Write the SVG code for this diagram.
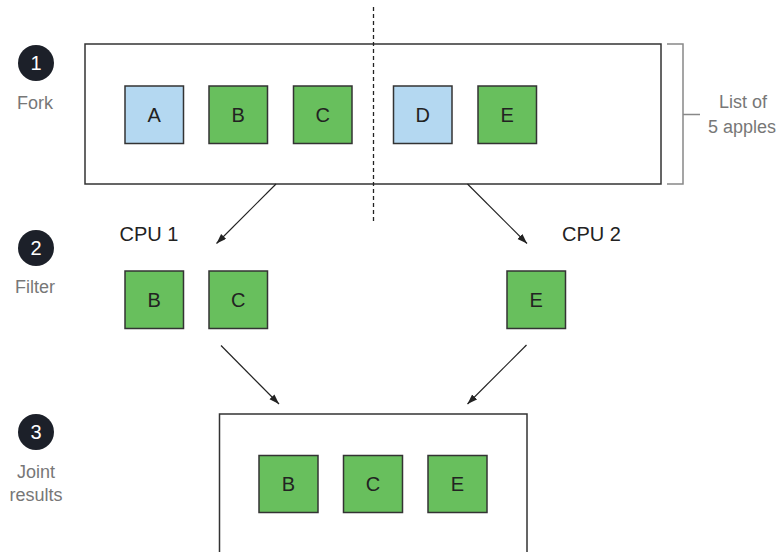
<svg xmlns="http://www.w3.org/2000/svg" width="779" height="552" viewBox="0 0 779 552">
<style>
.box{fill:#fff;stroke:#333;stroke-width:1.5}
.sq{stroke:#333;stroke-width:1.5}
.blue{fill:#b4d8f1}
.green{fill:#68bf5d}
.lt{font-family:"Liberation Sans",Arial,sans-serif;font-size:20px;fill:#222;text-anchor:middle}
.cpu{font-family:"Liberation Sans",Arial,sans-serif;font-size:20px;fill:#222}
.gl{font-family:"Liberation Sans",Arial,sans-serif;font-size:18px;fill:#777;text-anchor:middle}
.num{font-family:"Liberation Sans",Arial,sans-serif;font-size:20px;fill:#fff;text-anchor:middle}
.circ{fill:#1c2029}
.conn{stroke:#222;stroke-width:1.2;fill:none}
</style>
<defs>
<marker id="arr" markerUnits="userSpaceOnUse" markerWidth="11" markerHeight="8" refX="10" refY="3.5" orient="auto">
<path d="M0,0 L10,3.5 L0,7 z" fill="#222"/>
</marker>
</defs>
<g id="step1">
<circle class="circ" cx="36" cy="63" r="18"/>
<text class="num" x="36" y="70">1</text>
<text class="gl" x="35" y="109">Fork</text>
</g>
<g id="step2">
<circle class="circ" cx="36" cy="248" r="18"/>
<text class="num" x="36" y="255">2</text>
<text class="gl" x="35" y="293">Filter</text>
</g>
<g id="step3">
<circle class="circ" cx="36" cy="432" r="18"/>
<text class="num" x="36" y="439">3</text>
<text class="gl" x="36" y="478">Joint</text>
<text class="gl" x="36" y="501">results</text>
</g>
<g id="list">
<rect class="box" x="85" y="44" width="576" height="140"/>
</g>
<g id="bracket">
<path d="M667,44 H683 V184 H667 M683,114.5 H700" fill="none" stroke="#888" stroke-width="1.5"/>
<text class="gl" x="743" y="108">List of</text>
<text class="gl" x="742" y="133">5 apples</text>
</g>
<g id="divider">
<line x1="373.5" y1="7" x2="373.5" y2="222" stroke="#222" stroke-width="1.3" stroke-dasharray="4,3"/>
</g>
<g id="A1"><rect class="sq blue" x="125" y="86" width="58.5" height="57.5"/><text class="lt" x="154.2" y="122">A</text></g>
<g id="B1"><rect class="sq green" x="209" y="86" width="58.5" height="57.5"/><text class="lt" x="238.2" y="122">B</text></g>
<g id="C1"><rect class="sq green" x="293.5" y="86" width="58.5" height="57.5"/><text class="lt" x="322.7" y="122">C</text></g>
<g id="D1"><rect class="sq blue" x="393.5" y="86" width="58.5" height="57.5"/><text class="lt" x="422.7" y="122">D</text></g>
<g id="E1"><rect class="sq green" x="478" y="86" width="58.5" height="57.5"/><text class="lt" x="507.2" y="122">E</text></g>
<g id="cpu1label"><text class="cpu" x="119.5" y="241">CPU 1</text></g>
<g id="cpu2label"><text class="cpu" x="562" y="241">CPU 2</text></g>
<g id="B2"><rect class="sq green" x="125" y="271" width="58.5" height="57.5"/><text class="lt" x="154.2" y="306.5">B</text></g>
<g id="C2"><rect class="sq green" x="209" y="271" width="58.5" height="57.5"/><text class="lt" x="238.2" y="306.5">C</text></g>
<g id="E2"><rect class="sq green" x="507" y="271" width="58.5" height="57.5"/><text class="lt" x="536.2" y="306.5">E</text></g>
<g id="results">
<rect class="box" x="219.5" y="414" width="307.5" height="150"/>
</g>
<g id="B3"><rect class="sq green" x="259" y="455.5" width="59" height="57"/><text class="lt" x="288.5" y="491">B</text></g>
<g id="C3"><rect class="sq green" x="343.5" y="455.5" width="59" height="57"/><text class="lt" x="373" y="491">C</text></g>
<g id="E3"><rect class="sq green" x="428" y="455.5" width="59" height="57"/><text class="lt" x="457.5" y="491">E</text></g>
<g id="connectors">
<line class="conn" x1="276" y1="184" x2="216.5" y2="243.5" marker-end="url(#arr)"/>
<line class="conn" x1="467.5" y1="184" x2="527" y2="243.5" marker-end="url(#arr)"/>
<line class="conn" x1="221" y1="345.5" x2="279" y2="404" marker-end="url(#arr)"/>
<line class="conn" x1="526.5" y1="345" x2="467.5" y2="404" marker-end="url(#arr)"/>
</g>
</svg>
